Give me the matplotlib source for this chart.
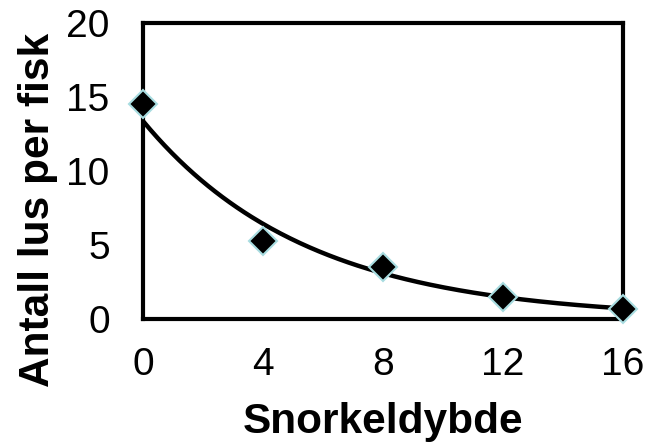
import numpy as np
import matplotlib.pyplot as plt

# data
dybde = [0, 4, 8, 12, 16]
lus = [14.5, 5.3, 3.5, 1.5, 0.7]
x_ticks = [0, 4, 8, 12, 16]
y_ticks = [0, 5, 10, 15, 20]

plt.rcParams['font.family'] = ['Liberation Sans', 'DejaVu Sans']

fig = plt.figure(figsize=(6.58, 4.48), dpi=100)
ax = fig.add_axes([143 / 658, 1 - 319 / 448, (623 - 143) / 658, (319 - 23) / 448])

# exponential trendline (like Excel)
b, ln_a = np.polyfit(dybde, np.log(lus), 1)
xs = np.linspace(0, 16, 200)
ax.plot(xs, np.exp(ln_a) * np.exp(b * xs), color='black', lw=3.2, zorder=2)

ax.plot(dybde, lus, linestyle='none', marker='D', ms=14, mfc='black',
        mec='#a8dce0', mew=1.5, zorder=3, clip_on=False)

ax.set_xlim(0, 16)
ax.set_ylim(0, 20)
ax.set_xticks(x_ticks)
ax.set_yticks(y_ticks)
ax.tick_params(length=0, labelsize=28)
ax.tick_params(axis='x', pad=20)
ax.tick_params(axis='y', pad=24)
for s in ax.spines.values():
    s.set_linewidth(3)

ax.set_xlabel('Snorkeldybde', fontsize=30.5, fontweight='bold')
ax.set_ylabel('Antall lus per fisk', fontsize=30.5, fontweight='bold', va='center')
ax.xaxis.set_label_coords(0.5, -0.28)
ax.yaxis.set_label_coords(-0.219, 0.368)

fig.savefig('out.png', dpi=100)
